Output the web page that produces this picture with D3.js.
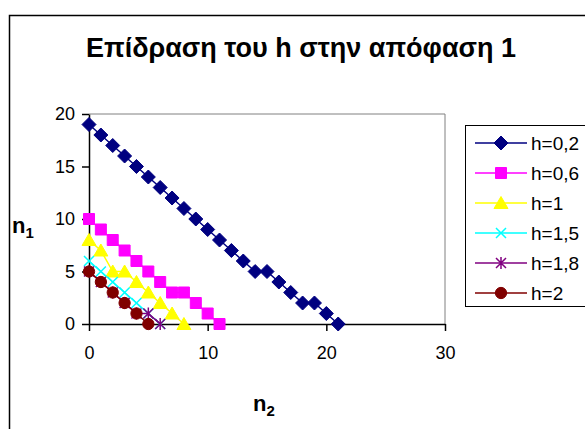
<!DOCTYPE html>
<meta charset="utf-8">
<script src="https://d3js.org/d3.v7.min.js"></script>
<style>
  body { margin: 0; background: #fff; }
  text { font-family: Arial, "Liberation Sans", sans-serif; }
</style>
<body>
<div id="chart"></div>
<script>
// values: n1 for n2 = 0, 1, 2, ...
var seriesNames = ["h=0,2", "h=0,6", "h=1", "h=1,5", "h=1,8", "h=2"];
var h02 = [19, 18, 17, 16, 15, 14, 13, 12, 11, 10, 9, 8, 7, 6, 5, 5, 4, 3, 2, 2, 1, 0];
var h06 = [10, 9, 8, 7, 6, 5, 4, 3, 3, 2, 1, 0];
var h1  = [8, 7, 5, 5, 4, 3, 2, 1, 0];
var h15 = [6, 5, 4, 3, 2, 1, 0];
var h18 = [5, 4, 3, 2, 1, 1, 0];
var h2  = [5, 4, 3, 2, 1, 0];
var xTicks = [0, 10, 20, 30];
var yTicks = [0, 5, 10, 15, 20];

var colors = ["#000080", "#FF00FF", "#FFFF00", "#00FFFF", "#800080", "#800000"];
var shapes = ["diamond", "square", "triangle", "x", "star", "circle"];
var allSeries = [h02, h06, h1, h15, h18, h2];

var W = 585, H = 429;
var svg = d3.select("#chart").append("svg")
    .attr("width", W).attr("height", H);

// chart frame
svg.append("rect")
    .attr("x", 9.5).attr("y", 15.5)
    .attr("width", 620).attr("height", 440)
    .attr("fill", "#fff").attr("stroke", "#000").attr("stroke-width", 1.5);

svg.append("text")
    .attr("x", 301).attr("y", 57)
    .attr("text-anchor", "middle")
    .attr("font-size", 27).attr("font-weight", "bold")
    .text("Επίδραση του h στην απόφαση 1");

var x = d3.scaleLinear().domain([0, 30]).range([89, 445]);
var y = d3.scaleLinear().domain([0, 20]).range([324, 114]);

// plot area border (top/right grey)
svg.append("path")
    .attr("d", "M" + x(0) + "," + y(20) + "H" + x(30) + "V" + y(0))
    .attr("fill", "none").attr("stroke", "#808080").attr("stroke-width", 1);

var gx = svg.append("g")
    .attr("transform", "translate(0," + y(0) + ")")
    .call(d3.axisBottom(x).tickValues(xTicks).tickSize(7).tickSizeOuter(0).tickPadding(15));
var gy = svg.append("g")
    .attr("transform", "translate(" + x(0) + ",0)")
    .call(d3.axisLeft(y).tickValues(yTicks).tickSize(7).tickSizeOuter(0).tickPadding(7));
[gx, gy].forEach(function(g) {
  g.select(".domain").attr("stroke", "#000").attr("stroke-width", 1.5);
  g.selectAll(".tick line").attr("stroke", "#000").attr("stroke-width", 1.5);
  g.selectAll(".tick text").attr("font-size", 18).attr("fill", "#000")
    .attr("font-family", "Arial, 'Liberation Sans', sans-serif");
});

// axis titles
var t1 = svg.append("text").attr("x", 12).attr("y", 233)
    .attr("font-size", 22).attr("font-weight", "bold");
t1.append("tspan").text("n");
t1.append("tspan").attr("font-size", 15).attr("dy", 5).text("1");

var t2 = svg.append("text").attr("x", 253).attr("y", 411)
    .attr("font-size", 22).attr("font-weight", "bold");
t2.append("tspan").text("n");
t2.append("tspan").attr("font-size", 15).attr("dy", 5).text("2");

function markerPath(shape) {
  if (shape === "diamond") return "M0,-7L7,0L0,7L-7,0Z";
  if (shape === "square") return d3.symbol(d3.symbolSquare, 121)();
  if (shape === "triangle") return "M0,-6.5L7,5.5L-7,5.5Z";
  if (shape === "circle") return d3.symbol(d3.symbolCircle, 100)();
  if (shape === "x") return "M-5,-5L5,5M-5,5L5,-5";
  return "M-5,-5L5,5M-5,5L5,-5M0,-6V6";
}
function drawMarker(g, shape, color) {
  var stroked = shape === "x" || shape === "star";
  g.append("path").attr("d", markerPath(shape))
    .attr("fill", stroked ? "none" : color)
    .attr("stroke", color)
    .attr("stroke-width", stroked ? 1.5 : 1);
}

var line = d3.line().x(function(d, i) { return x(i); }).y(function(d) { return y(d); });

allSeries.forEach(function(vals, s) {
  svg.append("path").datum(vals)
    .attr("d", line)
    .attr("fill", "none").attr("stroke", colors[s]).attr("stroke-width", 1.5);
  vals.forEach(function(v, i) {
    var g = svg.append("g").attr("transform", "translate(" + x(i) + "," + y(v) + ")");
    drawMarker(g, shapes[s], colors[s]);
  });
});

// legend
var legend = svg.append("g");
legend.append("rect")
    .attr("x", 465.5).attr("y", 125.5).attr("width", 140).attr("height", 181)
    .attr("fill", "#fff").attr("stroke", "#000").attr("stroke-width", 1);
seriesNames.forEach(function(name, s) {
  var ly = 143 + s * 30;
  legend.append("line").attr("x1", 475).attr("x2", 527).attr("y1", ly).attr("y2", ly)
    .attr("stroke", colors[s]).attr("stroke-width", 1.5);
  var g = legend.append("g").attr("transform", "translate(501," + ly + ")");
  drawMarker(g, shapes[s], colors[s]);
  legend.append("text").attr("x", 531).attr("y", ly + 7)
    .attr("font-size", 19).text(name);
});
</script>
</body>
